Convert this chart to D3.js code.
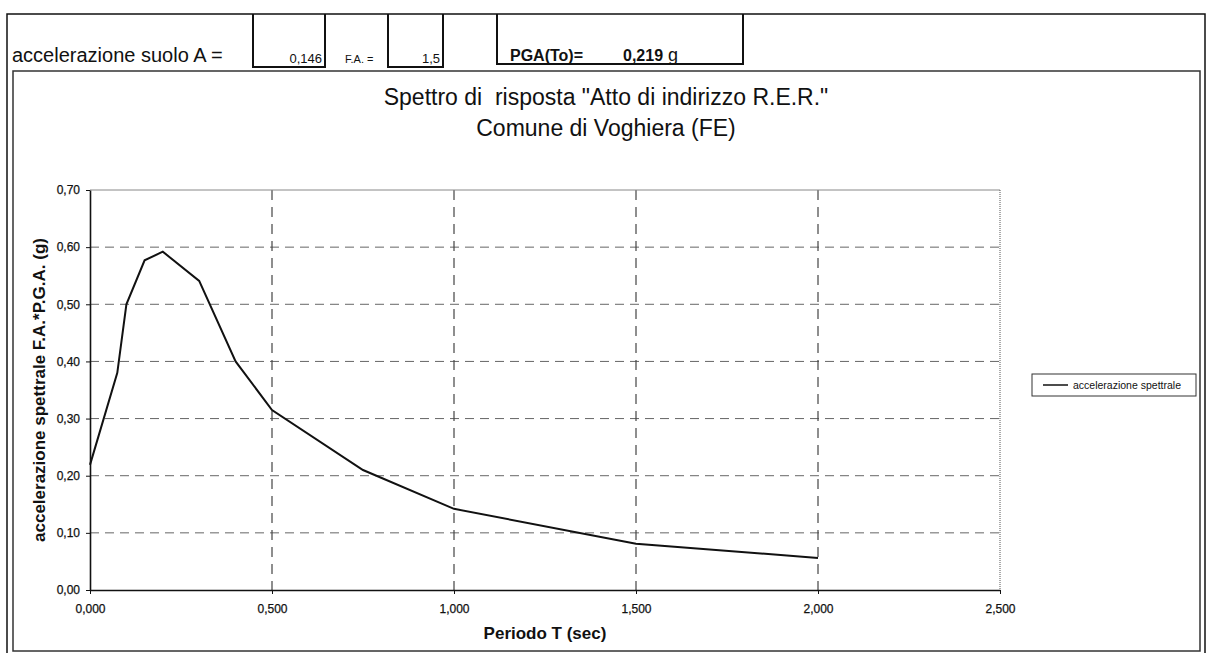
<!DOCTYPE html>
<html>
<head>
<meta charset="utf-8">
<script src="https://cdn.jsdelivr.net/npm/d3@7"></script>
<style>
  body { margin: 0; background: #fff; }
  svg { display: block; font-family: "Liberation Sans", Arial, sans-serif; }
</style>
</head>
<body>
<div id="chart"></div>
<script>
// spectrum points
const periods = [0, 0.075, 0.1, 0.15, 0.2, 0.3, 0.4, 0.5, 0.75, 1.0, 1.5, 2.0];
const accel = [0.219, 0.38, 0.50, 0.577, 0.592, 0.541, 0.40, 0.315, 0.21, 0.142, 0.081, 0.056];
const xTicks = [0, 0.5, 1.0, 1.5, 2.0, 2.5];
const yTicks = [0, 0.1, 0.2, 0.3, 0.4, 0.5, 0.6, 0.7];
const seriesName = "accelerazione spettrale";

// header cells
const groundAcc = 0.146;
const faValue = 1.5;
const pgaValue = 0.219;

const it = d3.formatLocale({ decimal: ",", thousands: ".", grouping: [3], currency: ["", " €"] });

const W = 1206, H = 653;
const plot = { left: 90, right: 1000, top: 190, bottom: 590 };

const svg = d3.select("#chart").append("svg")
    .attr("width", W)
    .attr("height", H);

// page frame (spreadsheet border)
svg.append("path")
    .attr("d", `M7,${H} V14 H1205 V${H}`)
    .attr("fill", "none")
    .attr("stroke", "#111")
    .attr("stroke-width", 1.5);

// header boxes
function box(x0, x1, y1) {
  svg.append("path")
      .attr("d", `M${x0},14 V${y1} H${x1} V14`)
      .attr("fill", "none")
      .attr("stroke", "#111")
      .attr("stroke-width", 2);
}
box(253, 325, 67);
box(388, 443, 67);
box(497, 743, 64);

svg.append("text")
    .attr("x", 12).attr("y", 62)
    .attr("font-size", 20)
    .attr("fill", "#111")
    .text("accelerazione suolo A =");

svg.append("text")
    .attr("x", 322).attr("y", 63)
    .attr("text-anchor", "end")
    .attr("font-size", 13)
    .attr("fill", "#111")
    .text(it.format(".3f")(groundAcc));

svg.append("text")
    .attr("x", 345).attr("y", 63)
    .attr("font-size", 11)
    .attr("fill", "#111")
    .text("F.A. =");

svg.append("text")
    .attr("x", 440).attr("y", 63)
    .attr("text-anchor", "end")
    .attr("font-size", 13)
    .attr("fill", "#111")
    .text(it.format(".1f")(faValue));

svg.append("text")
    .attr("x", 510).attr("y", 61)
    .attr("font-size", 16)
    .attr("font-weight", "bold")
    .attr("fill", "#111")
    .text("PGA(To)=");

const pga = svg.append("text")
    .attr("x", 623).attr("y", 61)
    .attr("font-size", 16)
    .attr("fill", "#111");
pga.append("tspan").attr("font-weight", "bold").text(it.format(".3f")(pgaValue));
pga.append("tspan").attr("font-size", 18).text(" g");

// chart area frame
svg.append("rect")
    .attr("x", 13).attr("y", 71)
    .attr("width", 1187).attr("height", 580)
    .attr("fill", "none")
    .attr("stroke", "#333")
    .attr("stroke-width", 1.5);

// title
const titleLines = ["Spettro di  risposta \"Atto di indirizzo R.E.R.\"", "Comune di Voghiera (FE)"];
svg.append("g").selectAll("text")
    .data(titleLines)
    .join("text")
    .attr("x", 606)
    .attr("y", (d, i) => 105 + i * 31)
    .attr("text-anchor", "middle")
    .attr("font-size", 23)
    .attr("fill", "#111")
    .style("white-space", "pre")
    .text(d => d);

// scales
const x = d3.scaleLinear().domain([0, 2.5]).range([plot.left, plot.right]);
const y = d3.scaleLinear().domain([0, 0.7]).range([plot.bottom, plot.top]);

// horizontal grid
svg.append("g").selectAll("line")
    .data(yTicks.filter(d => d > 0 && d < 0.7))
    .join("line")
    .attr("x1", plot.left).attr("x2", plot.right)
    .attr("y1", d => y(d)).attr("y2", d => y(d))
    .attr("stroke", "#666")
    .attr("stroke-width", 1)
    .attr("stroke-dasharray", "9,6");

// vertical grid
svg.append("g").selectAll("line")
    .data(xTicks.filter(d => d > 0 && d < 2.5))
    .join("line")
    .attr("x1", d => x(d)).attr("x2", d => x(d))
    .attr("y1", plot.top).attr("y2", plot.bottom)
    .attr("stroke", "#444")
    .attr("stroke-width", 1.2)
    .attr("stroke-dasharray", "10,7");

// top and right edges of plot area
svg.append("line")
    .attr("x1", plot.left).attr("x2", plot.right)
    .attr("y1", plot.top).attr("y2", plot.top)
    .attr("stroke", "#888");
svg.append("line")
    .attr("x1", plot.right).attr("x2", plot.right)
    .attr("y1", plot.top).attr("y2", plot.bottom)
    .attr("stroke", "#555")
    .attr("stroke-dasharray", "1,1");

// axes
const xAxis = svg.append("g")
    .attr("transform", `translate(0,${plot.bottom})`)
    .call(d3.axisBottom(x).tickValues(xTicks).tickFormat(it.format(".3f")).tickSize(4).tickSizeOuter(0).tickPadding(10));

const yAxis = svg.append("g")
    .attr("transform", `translate(${plot.left},0)`)
    .call(d3.axisLeft(y).tickValues(yTicks).tickFormat(it.format(".2f")).tickSize(4).tickSizeOuter(0).tickPadding(6));

[xAxis, yAxis].forEach(g => {
  g.attr("font-family", null).attr("font-size", null);
  g.select(".domain").attr("stroke", "#111").attr("stroke-width", 1.6);
  g.selectAll(".tick line").attr("stroke", "#111");
  g.selectAll(".tick text")
      .attr("font-size", 12)
      .attr("fill", "#111")
      .attr("stroke", "#111")
      .attr("stroke-width", 0.25);
});

// spectrum line
const pts = periods.map((t, i) => [t, accel[i]]);
svg.append("path")
    .datum(pts)
    .attr("fill", "none")
    .attr("stroke", "#111")
    .attr("stroke-width", 2)
    .attr("d", d3.line().x(d => x(d[0])).y(d => y(d[1])));

// axis titles
svg.append("text")
    .attr("x", (plot.left + plot.right) / 2)
    .attr("y", 639)
    .attr("text-anchor", "middle")
    .attr("font-size", 17)
    .attr("font-weight", "bold")
    .attr("fill", "#111")
    .text("Periodo T (sec)");

svg.append("text")
    .attr("transform", `translate(45,${(plot.top + plot.bottom) / 2}) rotate(-90)`)
    .attr("text-anchor", "middle")
    .attr("font-size", 17)
    .attr("font-weight", "bold")
    .attr("fill", "#111")
    .text("accelerazione spettrale F.A.*P.G.A. (g)");

// legend
const legend = svg.append("g").attr("transform", "translate(1032,374)");
legend.append("rect")
    .attr("width", 164).attr("height", 22)
    .attr("fill", "#fff")
    .attr("stroke", "#333");
legend.append("line")
    .attr("x1", 11).attr("x2", 36)
    .attr("y1", 11).attr("y2", 11)
    .attr("stroke", "#111")
    .attr("stroke-width", 1.5);
legend.append("text")
    .attr("x", 41).attr("y", 15)
    .attr("font-size", 10.5)
    .attr("fill", "#111")
    .text(seriesName);
</script>
</body>
</html>
